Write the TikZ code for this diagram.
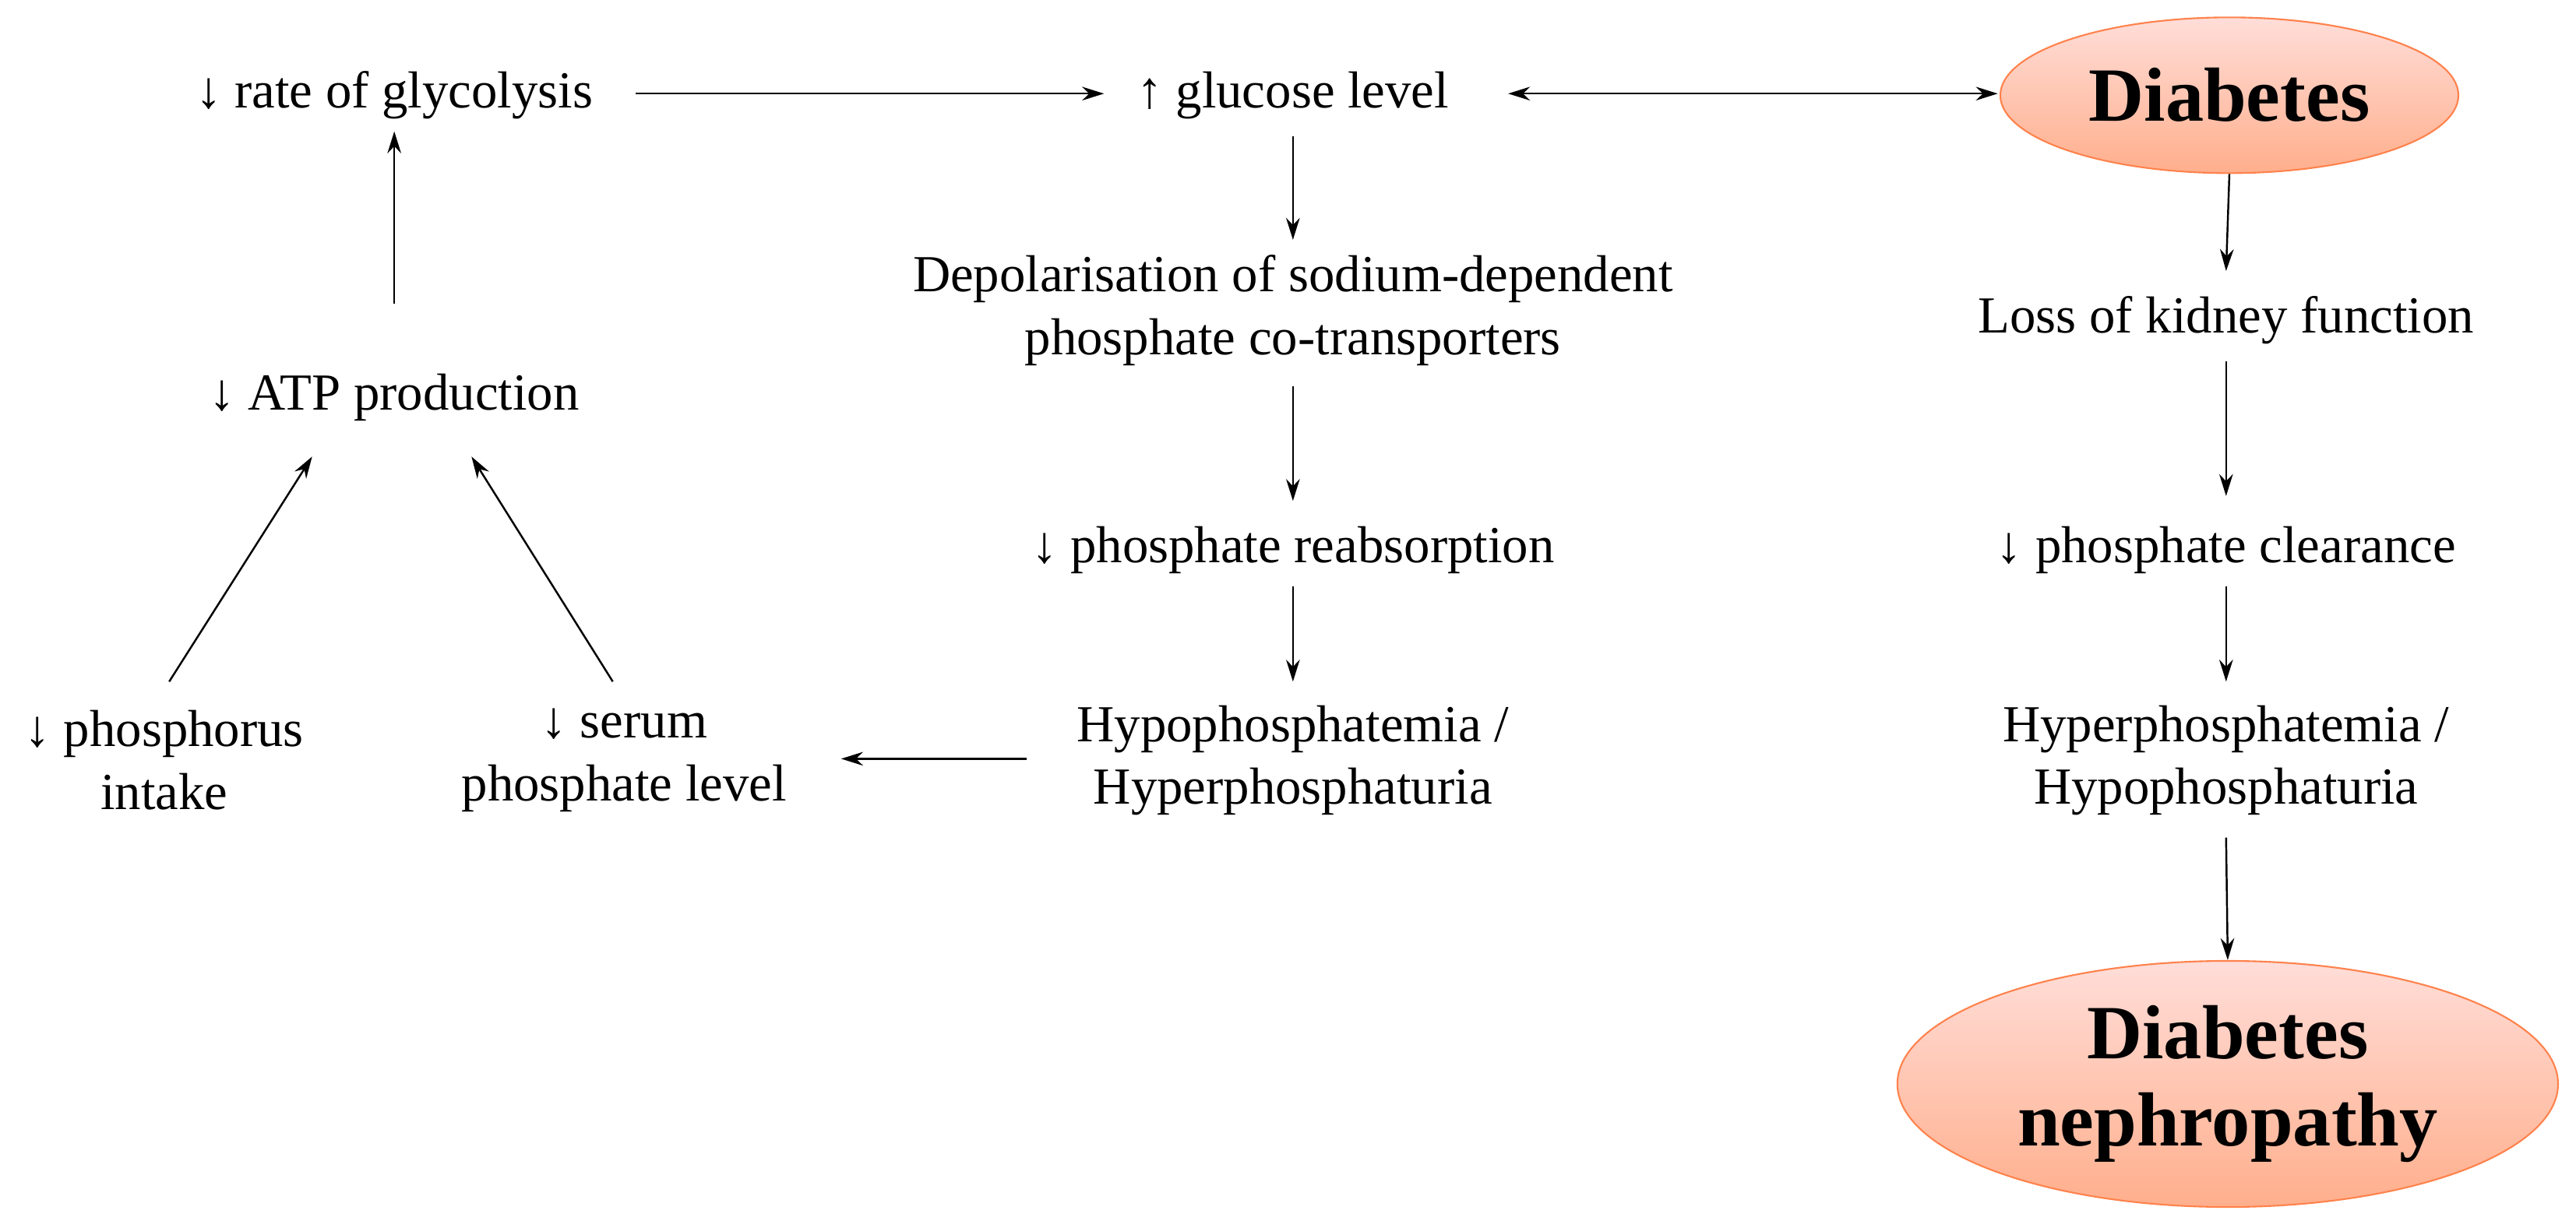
\documentclass[tikz,border=0pt]{standalone}
\usepackage{fontspec}
\setmainfont{Liberation Serif}
\usetikzlibrary{shapes.geometric,arrows.meta}
\begin{document}
\begin{tikzpicture}[x=0.02109cm,y=-0.02109cm,
  txt/.style={font=\fontsize{19}{23}\selectfont,align=center,inner sep=2pt},
  ell/.style={ellipse,draw=orange!60!red!70,line width=0.6pt,top color=orange!25!red!15!white,bottom color=orange!60!red!45,font=\bfseries\fontsize{28}{32}\selectfont,align=center,inner sep=0pt},
  arr/.style={-{Stealth[length=8pt,width=5pt]},line width=0.7pt}]
\useasboundingbox (0,0) rectangle (1568,743);
\node[txt] (gly) at (240,58) {↓ rate of glycolysis};
\node[txt] (glu) at (787,58) {↑ glucose level};
\node[ell,minimum width=279\pgflinewidth*0+5.88cm,minimum height=2.0cm] (dia) at (1357,58) {Diabetes};
\node[txt] (atp) at (240,242) {↓ ATP production};
\node[txt] (dep) at (787,189) {Depolarisation of sodium-dependent\\phosphate co-transporters};
\node[txt] (loss) at (1355,195) {Loss of kidney function};
\node[txt] (reab) at (787,335) {↓ phosphate reabsorption};
\node[txt] (clr) at (1355,335) {↓ phosphate clearance};
\node[txt] (pin) at (100,463) {↓ phosphorus\\intake};
\node[txt] (ser) at (380,463) {↓ serum\\phosphate level};
\node[txt] (hypo) at (787,463) {Hypophosphatemia /\\Hyperphosphaturia};
\node[txt] (hyper) at (1355,463) {Hyperphosphatemia /\\Hypophosphaturia};
\node[ell,minimum width=8.48cm,minimum height=3.16cm] (nep) at (1356,660) {Diabetes\\nephropathy};
\coordinate (a1) at (387,57); \coordinate (a2) at (672,57);
\draw[arr] (a1) -- (a2);
\coordinate (b1) at (918,57); \coordinate (b2) at (1216,57);
\draw[arr,{Stealth[length=8pt,width=5pt]}-{Stealth[length=8pt,width=5pt]}] (b1) -- (b2);
\draw[arr] (787,83) coordinate (c1) -- (787,146) coordinate (c2);
\draw[arr] (787,235) -- (787,305);
\draw[arr] (787,357) -- (787,415);
\draw[arr] (625,462) -- (512,462);
\draw[arr] (240,185) -- (240,80);
\draw[arr] (103,415) -- (190,278);
\draw[arr] (373,415) -- (287,278);
\draw[arr] (dia.south) -- (1355,165);
\draw[arr] (1355,220) -- (1355,302);
\draw[arr] (1355,357) -- (1355,415);
\draw[arr] (1355,510) -- (nep.north);
\end{tikzpicture}
\end{document}
